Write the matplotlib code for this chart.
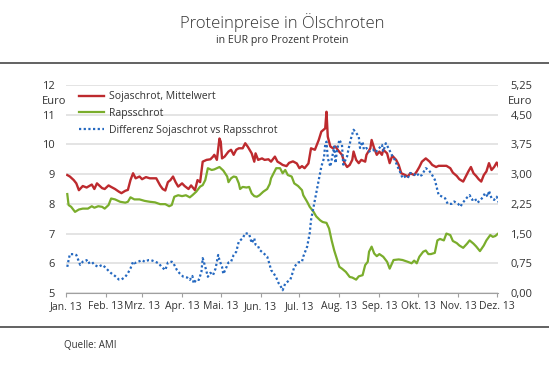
import matplotlib
matplotlib.use('Agg')
import matplotlib.pyplot as plt
from matplotlib import font_manager
from matplotlib.lines import Line2D
import pandas as pd

plt.rcParams['font.family'] = ['Open Sans', 'DejaVu Sans']

# days after 1 Jan 2013
soja_days = [1, 3, 6, 8, 10, 13, 16, 20, 22, 24, 28, 30, 33, 35, 38, 41, 43, 46, 48, 50,
             52, 54, 57, 59, 62, 65, 68, 70, 73, 75, 77, 79, 81, 83, 85, 87, 90, 92, 95, 97,
             100, 102, 104, 106, 109, 112, 114, 115, 117, 119, 120, 121, 123, 126, 128, 130,
             132, 134, 137, 139, 141, 144, 146, 147, 149, 152, 154, 157, 159, 162, 164, 166,
             168, 171, 173, 176, 179, 181, 183, 185, 188, 190, 193, 196, 198, 201, 202, 203,
             205, 207, 209, 211, 214, 216, 218, 220, 222, 223, 225, 227, 229, 232, 233, 236,
             237, 239, 241, 243, 245, 246, 249, 251, 253, 256, 258, 260, 263, 265, 267, 270,
             272, 274, 276, 279, 282, 284, 287, 289, 292, 295, 298, 300, 303, 305, 308, 310,
             312, 314, 316, 318, 320, 322, 324, 326, 328, 330, 332, 334, 336]
soja = [8.97, 8.92, 8.80, 8.69, 8.46, 8.60, 8.55, 8.65, 8.50, 8.69, 8.53, 8.50, 8.62, 8.57,
        8.50, 8.41, 8.36, 8.44, 8.47, 8.80, 9.03, 8.86, 8.92, 8.83, 8.90, 8.86, 8.86, 8.86,
        8.62, 8.50, 8.45, 8.73, 8.80, 8.92, 8.73, 8.58, 8.69, 8.60, 8.50, 8.62, 8.46, 8.80,
        8.73, 9.42, 9.48, 9.50, 9.59, 9.65, 9.48, 10.20, 10.09, 9.53, 9.59, 9.76, 9.82, 9.65,
        9.82, 9.87, 9.87, 10.04, 9.92, 9.70, 9.42, 9.70, 9.48, 9.53, 9.48, 9.50, 9.42, 9.59,
        9.42, 9.37, 9.31, 9.27, 9.38, 9.43, 9.36, 9.20, 9.27, 9.20, 9.36, 9.87, 9.82, 10.15,
        10.43, 10.54, 11.10, 10.26, 9.93, 9.87, 9.93, 9.80, 9.65, 9.37, 9.24, 9.31, 9.48,
        9.76, 9.48, 9.37, 9.48, 9.42, 9.65, 9.87, 10.15, 9.87, 9.65, 9.76, 9.65, 9.82, 9.70,
        9.37, 9.62, 9.48, 9.31, 9.03, 8.97, 8.92, 9.03, 8.97, 9.09, 9.24, 9.42, 9.53, 9.42,
        9.31, 9.24, 9.28, 9.28, 9.28, 9.20, 9.05, 8.94, 8.83, 8.75, 8.92, 9.09, 9.24, 9.03,
        8.94, 8.83, 8.75, 8.97, 9.09, 9.37, 9.14, 9.24, 9.39, 9.20]

raps_days = [1, 2, 4, 7, 10, 13, 17, 20, 22, 25, 28, 30, 33, 35, 38, 42, 46, 48, 50, 53,
             57, 61, 65, 69, 73, 77, 80, 82, 84, 87, 90, 93, 96, 98, 101, 104, 106, 108, 110,
             113, 115, 119, 122, 125, 126, 128, 130, 132, 134, 135, 137, 140, 142, 144, 146,
             148, 150, 153, 156, 158, 159, 161, 163, 166, 168, 170, 172, 175, 177, 180, 183,
             184, 187, 189, 192, 194, 197, 199, 202, 204, 206, 208, 210, 212, 214, 217, 220,
             222, 225, 227, 230, 232, 234, 235, 237, 239, 241, 243, 246, 249, 251, 254, 258,
             261, 265, 268, 270, 272, 274, 277, 279, 281, 283, 286, 288, 290, 293, 295, 298,
             300, 303, 305, 308, 311, 313, 316, 318, 321, 324, 326, 329, 331, 333, 335, 336]
raps = [8.33, 7.96, 7.90, 7.73, 7.81, 7.84, 7.84, 7.92, 7.87, 7.92, 7.90, 7.84, 7.96, 8.18,
        8.15, 8.07, 8.04, 8.07, 8.22, 8.15, 8.15, 8.10, 8.07, 8.05, 7.99, 7.99, 7.92, 7.96,
        8.24, 8.29, 8.26, 8.29, 8.22, 8.29, 8.41, 8.58, 8.63, 8.80, 9.20, 9.14, 9.16, 9.24,
        9.12, 8.92, 8.73, 8.86, 8.92, 8.90, 8.69, 8.50, 8.57, 8.55, 8.57, 8.35, 8.26, 8.24,
        8.29, 8.41, 8.50, 8.67, 8.86, 9.03, 9.20, 9.20, 9.03, 9.14, 8.97, 8.92, 8.69, 8.60,
        8.46, 8.29, 8.07, 7.90, 7.73, 7.58, 7.45, 7.39, 7.36, 7.17, 6.77, 6.43, 6.16, 5.88,
        5.82, 5.71, 5.54, 5.52, 5.45, 5.56, 5.60, 5.94, 6.05, 6.39, 6.56, 6.33, 6.24, 6.31,
        6.22, 6.05, 5.82, 6.11, 6.13, 6.11, 6.05, 6.00, 6.09, 6.00, 6.22, 6.39, 6.43, 6.31,
        6.31, 6.35, 6.77, 6.82, 6.77, 7.00, 6.95, 6.75, 6.68, 6.60, 6.52, 6.66, 6.77, 6.66,
        6.57, 6.41, 6.60, 6.77, 6.95, 6.89, 6.92, 7.00, 6.95]

diff_days = [1, 2, 3, 6, 8, 10, 11, 13, 16, 17, 20, 22, 25, 28, 30, 33, 35, 38, 41, 43, 46,
             48, 50, 52, 53, 56, 59, 61, 64, 66, 69, 72, 74, 77, 79, 82, 83, 86, 88, 91, 94,
             96, 98, 99, 101, 103, 105, 106, 108, 110, 112, 114, 116, 118, 119, 121, 122, 124,
             126, 128, 130, 132, 134, 137, 139, 142, 144, 146, 147, 149, 150, 153, 156, 158,
             159, 161, 163, 165, 167, 168, 170, 172, 174, 176, 177, 180, 183, 184, 187, 189,
             190, 192, 194, 196, 198, 200, 201, 202, 203, 205, 206, 208, 209, 210, 212, 214,
             215, 218, 219, 221, 223, 225, 227, 228, 230, 231, 233, 235, 238, 240, 243, 245,
             246, 248, 250, 252, 253, 255, 257, 259, 261, 263, 265, 267, 270, 272, 274, 276,
             279, 281, 283, 286, 288, 289, 292, 294, 296, 299, 301, 304, 306, 307, 309, 311,
             313, 315, 317, 319, 321, 323, 325, 327, 328, 330, 332, 334, 336]
diff = [0.66, 0.83, 0.98, 0.98, 0.96, 0.79, 0.71, 0.79, 0.83, 0.75, 0.79, 0.71, 0.66, 0.71,
        0.66, 0.56, 0.50, 0.43, 0.34, 0.34, 0.41, 0.50, 0.62, 0.79, 0.75, 0.79, 0.83, 0.79,
        0.83, 0.83, 0.79, 0.75, 0.66, 0.58, 0.77, 0.79, 0.77, 0.58, 0.50, 0.41, 0.39, 0.33,
        0.43, 0.24, 0.34, 0.33, 0.53, 0.88, 0.66, 0.41, 0.51, 0.45, 0.62, 0.96, 0.83, 0.66,
        0.48, 0.62, 0.77, 0.79, 0.96, 1.04, 1.30, 1.38, 1.51, 1.49, 1.26, 1.38, 1.22, 1.18,
        1.09, 1.01, 0.92, 0.71, 0.58, 0.50, 0.39, 0.24, 0.14, 0.07, 0.24, 0.29, 0.34, 0.54,
        0.66, 0.77, 0.79, 0.92, 1.17, 1.51, 1.84, 2.18, 2.52, 2.86, 3.19, 3.40, 3.74, 3.82,
        3.40, 3.19, 3.36, 3.70, 3.28, 3.57, 3.87, 3.74, 3.24, 3.45, 3.62, 3.90, 4.12, 4.04,
        3.95, 3.66, 3.82, 3.62, 3.66, 3.57, 3.62, 3.55, 3.66, 3.74, 3.57, 3.78, 3.66, 3.53,
        3.46, 3.36, 3.20, 3.06, 2.90, 2.94, 2.90, 3.03, 2.98, 3.03, 2.94, 2.98, 3.15, 3.11,
        3.03, 2.86, 2.60, 2.47, 2.43, 2.39, 2.25, 2.25, 2.31, 2.25, 2.18, 2.25, 2.33, 2.41,
        2.47, 2.35, 2.39, 2.28, 2.33, 2.41, 2.52, 2.43, 2.58, 2.39, 2.35, 2.43, 2.25]

month_labels = ['Jan. 13', 'Feb. 13', 'Mrz. 13', 'Apr. 13', 'Mai. 13', 'Jun. 13',
                'Jul. 13', 'Aug. 13', 'Sep. 13', 'Okt. 13', 'Nov. 13', 'Dez. 13']
left_ticks = [5, 6, 7, 8, 9, 10, 11, 12]
right_ticks = [0, 0.75, 1.5, 2.25, 3.0, 3.75, 4.5, 5.25]

start = pd.Timestamp('2013-01-01')
def to_dates(days):
    return start + pd.to_timedelta(days, unit='D')

# use Open Sans Light for the title if it is there
has_light = any(f.name == 'Open Sans' and f.weight in (300, 'light')
                for f in font_manager.fontManager.ttflist)
title_kw = dict(fontsize=12, fontweight='light') if has_light else dict(fontsize=11.3)

txt = '#333333'
W, H = 549, 376
fig = plt.figure(figsize=(W / 100, H / 100), dpi=100)
ax = fig.add_axes([66 / W, (H - 293) / H, 432 / W, 208 / H])

ax.plot(to_dates(soja_days), soja, color='#bd2a2e', lw=1.7, label='Sojaschrot, Mittelwert')
ax.plot(to_dates(raps_days), raps, color='#7aad2c', lw=1.6, label='Rapsschrot')
ax.set_ylim(5, 12)
ax.set_xlim(start, start + pd.Timedelta(days=335))
ax.set_yticks(left_ticks)
ax.yaxis.grid(True, color='#dcdcdc', lw=1.1)
ax.set_axisbelow(True)

months = pd.date_range('2013-01-01', '2013-12-01', freq='MS')
ax.set_xticks(months)
ax.set_xticklabels(month_labels)

ax2 = ax.twinx()
ax2.plot(to_dates(diff_days), diff, color='#2468c0', lw=1.6, linestyle=(0, (1, 1.1)),
         label='Differenz Sojaschrot vs Rapsschrot')
ax2.set_ylim(0, 5.25)
ax2.set_yticks(right_ticks)
ax2.set_yticklabels([f'{v:.2f}'.replace('.', ',') for v in right_ticks])

for a in (ax, ax2):
    for s in a.spines.values():
        s.set_visible(False)
ax.spines['bottom'].set_visible(True)
ax.spines['bottom'].set_color('#a0a0a0')
ax.tick_params(axis='x', length=3, color='#a0a0a0', labelsize=7.5, labelcolor=txt, pad=3)
ax.tick_params(axis='y', length=0, labelsize=8, labelcolor=txt, pad=8)
ax2.tick_params(axis='y', length=0, labelsize=8, labelcolor=txt, pad=9)

h1, l1 = ax.get_legend_handles_labels()
h2, l2 = ax2.get_legend_handles_labels()
leg = ax2.legend(h1 + h2, l1 + l2, loc='upper left', bbox_to_anchor=(0.015, 1.0),
                 frameon=False, fontsize=7.5, handlelength=2.4, handletextpad=0.5,
                 labelspacing=0.55, borderaxespad=0.2)
for t in leg.get_texts():
    t.set_color(txt)

fig.text(54 / W, 1 - 101 / H, 'Euro', ha='center', va='center', fontsize=8, color=txt)
fig.text(520 / W, 1 - 101 / H, 'Euro', ha='center', va='center', fontsize=8, color=txt)

fig.text(282 / W, 1 - 28.5 / H, 'Proteinpreise in Ölschroten', ha='center', va='baseline',
         color=txt, **title_kw)
fig.text(282 / W, 1 - 43 / H, 'in EUR pro Prozent Protein', ha='center', va='baseline',
         fontsize=7.7, color=txt)
fig.text(64 / W, 1 - 346 / H, 'Quelle: AMI', ha='left', va='center', fontsize=7, color=txt)

for y in (63, 327):
    fig.add_artist(Line2D([0, 1], [1 - y / H, 1 - y / H], transform=fig.transFigure,
                          color='#555555', lw=1.3))

fig.savefig('out.png', dpi=100)
